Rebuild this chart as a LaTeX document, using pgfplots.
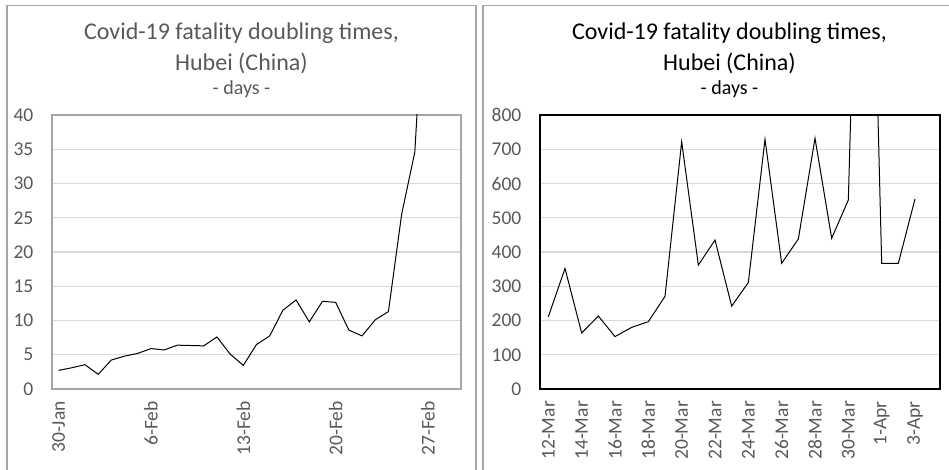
\documentclass[border=0pt]{standalone}
\usepackage{pgfplots}
\pgfplotsset{compat=1.18}
\usepackage{fontspec}
\setmainfont{Carlito}
\definecolor{txtgrey}{HTML}{595959}
\definecolor{gridgrey}{HTML}{D9D9D9}
\definecolor{framegrey}{HTML}{A6A6A6}
\pgfplotsset{
  panel/.style={
    scale only axis,
    height=274pt,
    ymin=0,
    ymajorgrids,
    major grid style={gridgrey, line width=1.3pt},
    tick style={draw=none},
    ticklabel style={font=\fontsize{19.5}{22}\selectfont, text=txtgrey},
    /pgf/number format/assume math mode=true,
    yticklabel style={anchor=east, inner sep=0pt},
    yticklabel shift=18.5pt,
    xticklabel style={rotate=90, anchor=east, inner sep=0pt},
    xticklabel shift=12pt,
    clip=true,
  }
}
\begin{document}
\begin{tikzpicture}
\useasboundingbox (0pt,0pt) rectangle (949pt,469pt);
\clip (0pt,0pt) rectangle (949pt,469pt);
\coordinate (LA) at (52pt,80pt);
\coordinate (RA) at (540pt,80pt);
% panel frames
\draw[framegrey, line width=1.6pt] (7pt,-5pt) -- (7pt,463.3pt) -- (476pt,463.3pt) -- (476pt,-5pt);
\draw[framegrey, line width=1.6pt] (483pt,-5pt) -- (483pt,463.3pt) -- (960pt,463.3pt);
% titles
\node[anchor=base, text=txtgrey, font=\fontsize{24}{28}\selectfont, inner sep=0pt] at (241.5pt,429pt) {Covid-19 fatality doubling times,};
\node[anchor=base, text=txtgrey, font=\fontsize{24}{28}\selectfont, inner sep=0pt] at (241.5pt,398pt) {Hubei (China)};
\node[anchor=base, text=txtgrey, font=\fontsize{20}{23}\selectfont, inner sep=0pt] at (241.5pt,374pt) {- days -};
\node[anchor=base, text=black, font=\fontsize{24}{28}\selectfont, inner sep=0pt] at (729.5pt,429pt) {Covid-19 fatality doubling times,};
\node[anchor=base, text=black, font=\fontsize{24}{28}\selectfont, inner sep=0pt] at (729.5pt,398pt) {Hubei (China)};
\node[anchor=base, text=black, font=\fontsize{20}{23}\selectfont, inner sep=0pt] at (729.5pt,374pt) {- days -};

\begin{axis}[panel,
  at={(LA)}, anchor=south west,
  width=409pt,
  xmin=-0.5, xmax=30.5,
  ymax=40,
  ytick={0,5,...,40},
  xtick={0,7,14,21,28},
  xticklabels={30-Jan,6-Feb,13-Feb,20-Feb,27-Feb},
  axis line style={framegrey, line width=1.5pt},
]
\addplot[black, line width=1pt, sharp plot] coordinates {
(0,2.72) (1,3.1) (2,3.55) (3,2.14) (4,4.23) (5,4.8) (6,5.2) (7,5.9)
(8,5.7) (9,6.4) (10,6.35) (11,6.3) (12,7.6) (13,5.1) (14,3.45) (15,6.5)
(16,7.75) (17,11.5) (18,13.0) (19,9.8) (20,12.8) (21,12.65) (22,8.6)
(23,7.75) (24,10.1) (25,11.3) (26,25.5) (27,34.6) (28,68)
};
\end{axis}

\begin{axis}[panel,
  at={(RA)}, anchor=south west,
  width=400pt,
  xmin=-0.5, xmax=23.5,
  ymax=800,
  ytick={0,100,...,800},
  xtick={0,2,...,22},
  xticklabels={12-Mar,14-Mar,16-Mar,18-Mar,20-Mar,22-Mar,24-Mar,26-Mar,28-Mar,30-Mar,1-Apr,3-Apr},
  axis line style={black, line width=2pt},
]
\addplot[black, line width=1pt, sharp plot] coordinates {
(0,211) (1,352) (2,163.5) (3,213) (4,153) (5,180) (6,196.6) (7,270.5)
(8,722) (9,362) (10,435) (11,242) (12,311) (13,729) (14,367) (15,438)
(16,732) (17,440) (18,552) (19,2300) (20,367) (21,367) (22,555)
};
\end{axis}
\end{tikzpicture}
\end{document}
